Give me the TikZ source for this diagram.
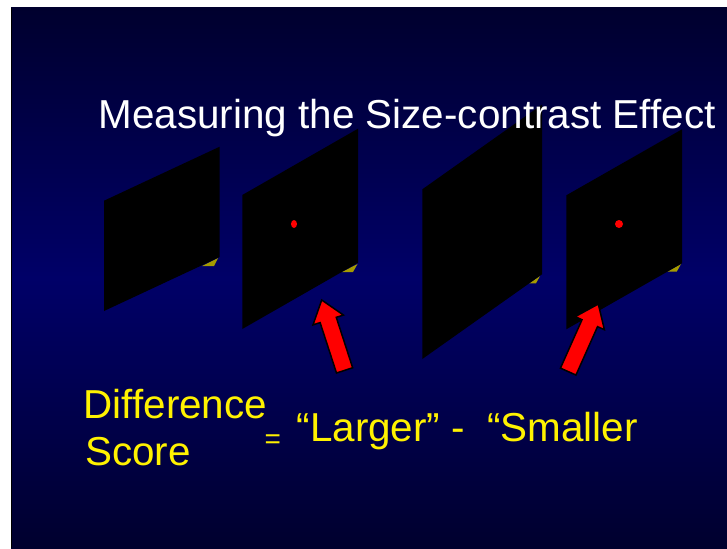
\documentclass[tikz,border=0pt]{standalone}
\usepackage{fontspec}
\setmainfont{Liberation Sans}

\definecolor{slidetop}{RGB}{0,0,46}
\definecolor{slidemid}{RGB}{0,0,104}
\definecolor{shadowyellow}{RGB}{165,155,0}

\tikzset{
  panel/.style={fill=black},
  sliver/.style={fill=shadowyellow},
  fixdot/.style={fill=red},
  pointer/.style={fill=red, draw=black, line width=1.5pt, line join=miter},
  slidetext/.style={inner sep=0pt, anchor=base west, font=\fontsize{40.4}{48}\selectfont}
}

\begin{document}
\begin{tikzpicture}[x=1pt, y=-1pt]

% Page and slide background
\fill[white] (0,0) rectangle (727,548);
\useasboundingbox (0,0) rectangle (727,548);
\shade[top color=slidetop, bottom color=slidetop, middle color=slidemid] (11,8) rectangle (727,548);
\draw[black, line width=1pt] (11.5,8) -- (11.5,548);

% Yellow slivers under the panels
\fill[sliver] (202,266) -- (218,258) -- (214,266) -- cycle;
\fill[sliver] (342,272) -- (357.5,264) -- (353,272) -- cycle;
\fill[sliver] (529.3,283.3) -- (540,276) -- (536,283.3) -- cycle;
\fill[sliver] (667.3,271.7) -- (681,264) -- (676.7,271.7) -- cycle;

% Panels: left x, top-left y, width, height, rise
\foreach \px/\py/\pw/\ph/\pr in {104/200.7/115.7/110.3/54, 242.3/195/115.7/134/66.3,
  422.3/189.3/119.7/169.7/84.7, 566.3/195.3/115.7/134/66} {
  \fill[panel] (\px,\py) -- ++(\pw,-\pr) -- ++(0,\ph) -- ++(-\pw,\pr) -- cycle;
}

% Red dots
\fill[fixdot] (294,224) ellipse (3 and 4);
\fill[fixdot] (619,224) circle (4);

% Title
\node[slidetext, text=white] (title) at (98.5,128.5) {Measuring the Size-contrast Effect};

% Red arrows
\foreach \tx/\ty/\ang in {321.7/300/18, 598.3/304/-24} {
  \begin{scope}[shift={(\tx,\ty)}, rotate=\ang]
    \draw[pointer] (0,0) -- (16,21) -- (8.5,21) -- (8.5,74) -- (-8.5,74) -- (-8.5,21) -- (-16,21) -- cycle;
  \end{scope}
}

% Difference score
\node[slidetext, text=yellow] (diff) at (83.5,418) {Difference};
\node[slidetext, text=yellow] (score) at (85,465) {Score};
\node[slidetext, text=yellow, font=\fontsize{28}{34}\selectfont] (equals) at (264.5,448) {=};
\node[slidetext, text=yellow] (formula) at (296.5,441.7) {“Larger” -\ \ “Smaller};

\end{tikzpicture}
\end{document}
